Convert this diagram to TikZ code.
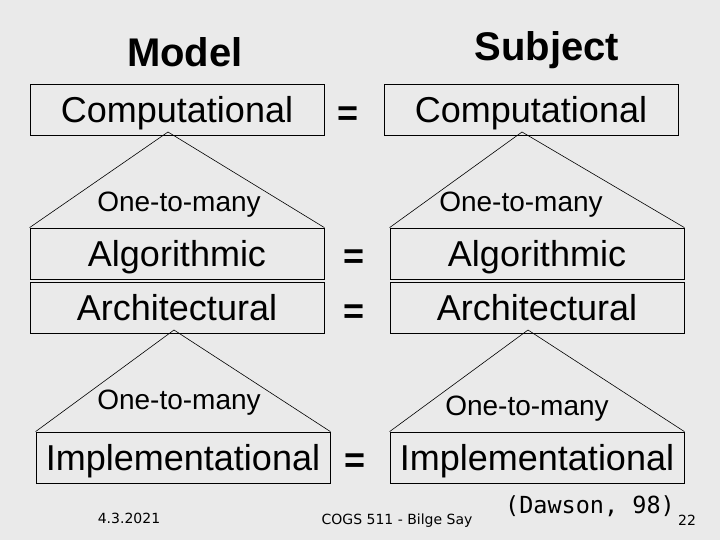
\documentclass[tikz,border=0pt]{standalone}
\usepackage{fontspec}
\setmainfont{Liberation Sans}
\newfontfamily\footfont{DejaVu Sans}
\newfontfamily\citefont{DejaVu Sans Mono}
\usetikzlibrary{positioning}
\definecolor{slidebg}{RGB}{234,234,234}

\begin{document}
\begin{tikzpicture}[
    x=1pt, y=-1pt,
    node distance=2.2pt,
    level/.style={rectangle, draw, line width=0.8pt, minimum width=294pt, minimum height=51pt, inner sep=0pt, text height=25.9pt, text depth=0pt, font=\fontsize{36}{40}\selectfont},
    equal/.style={inner sep=0pt, font=\fontsize{36}{40}\selectfont\bfseries},
    title/.style={inner sep=0pt, text height=28.8pt, text depth=0pt, font=\fontsize{40}{44}\selectfont\bfseries},
    many/.style={inner sep=0pt, text height=20.2pt, text depth=0pt, font=\fontsize{28}{32}\selectfont},
    foot/.style={inner sep=0pt, text height=10.2pt, text depth=0pt, font=\footfont\fontsize{14}{16}\selectfont},
    cite/.style={inner sep=0pt, text height=16.8pt, text depth=0pt, font=\citefont\fontsize{23.5}{26}\selectfont},
    fan/.style={line width=0.6pt}
]
\fill[slidebg] (0,0) rectangle (720,540);
\useasboundingbox (0,0) rectangle (720,540);

% column titles
\node[title] (model) at (185,52.5) {Model};
\node[title] (subject) at (547,46) {Subject};

% model levels
\node[level] (lcomp) at (177,109.5) {Computational};
\node[level] (lalg) at (177,253.5) {Algorithmic};
\node[level, below=of lalg] (larch) {Architectural};
\node[level] (limpl) at (183,457.5) {Implementational};

% subject levels
\node[level] (rcomp) at (531,109.5) {Computational};
\node[level] (ralg) at (537,253.5) {Algorithmic};
\node[level, below=of ralg] (rarch) {Architectural};
\node[level] (rimpl) at (537,457.5) {Implementational};

% equivalences
\node[equal] (eqcomp) at (348.5,116) {=};
\node[equal] (eqalg) at (354.5,259) {=};
\node[equal] (eqarch) at (354.5,314) {=};
\node[equal] (eqimpl) at (354.7,463) {=};

% one-to-many fans
\coordinate (lcompapex) at (168,132);
\coordinate (rcompapex) at (522,132);
\coordinate (larchapex) at (174,330);
\coordinate (rarchapex) at (528,330);
\draw[fan] (lalg.north west) -- (lcompapex) -- (lalg.north east);
\draw[fan] (ralg.north west) -- (rcompapex) -- (ralg.north east);
\draw[fan] (limpl.north west) -- (larchapex) -- (limpl.north east);
\draw[fan] (rimpl.north west) -- (rarchapex) -- (rimpl.north east);

\node[many] (lmanytop) at (179,201) {One-to-many};
\node[many] (rmanytop) at (521,201) {One-to-many};
\node[many] (lmanybot) at (179,399) {One-to-many};
\node[many] (rmanybot) at (527,405) {One-to-many};

% footer
\node[foot] (date) at (129,518.7) {4.3.2021};
\node[foot] (course) at (397,519) {COGS 511 - Bilge Say};
\node[cite] (dawson) at (590,505.5) {(Dawson, 98)};
\node[foot] (page) at (687,520) {22};
\end{tikzpicture}
\end{document}
